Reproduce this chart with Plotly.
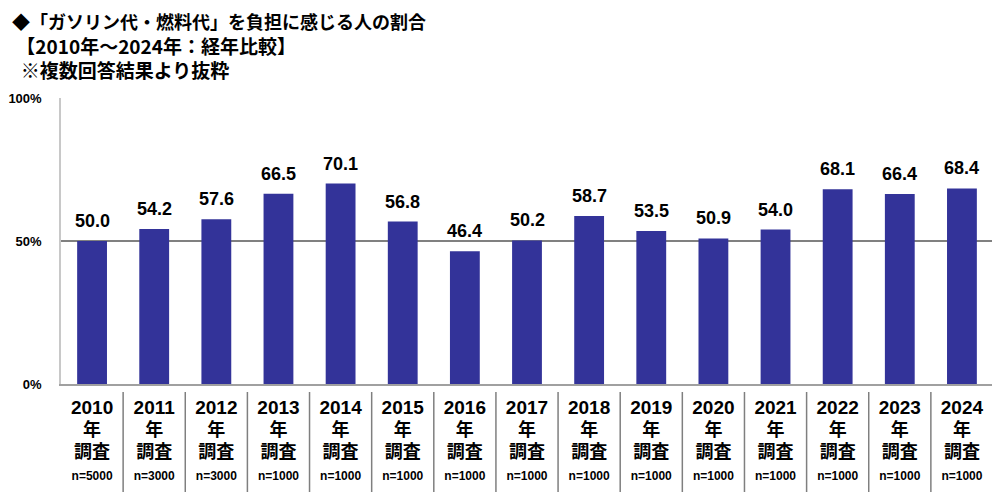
import plotly.graph_objects as go

years = ["2010", "2011", "2012", "2013", "2014", "2015", "2016", "2017",
         "2018", "2019", "2020", "2021", "2022", "2023", "2024"]
samples = ["5000", "3000", "3000", "1000", "1000", "1000", "1000", "1000",
           "1000", "1000", "1000", "1000", "1000", "1000", "1000"]
values = [50.0, 54.2, 57.6, 66.5, 70.1, 56.8, 46.4, 50.2,
          58.7, 53.5, 50.9, 54.0, 68.1, 66.4, 68.4]
y_ticks = [0, 50, 100]
y_tick_labels = ["0%", "50%", "100%"]
title_lines = ["◆「ガソリン代・燃料代」を負担に感じる人の割合",
               "【2010年～2024年：経年比較】",
               "※複数回答結果より抜粋"]

FONT = "Liberation Sans, Arial, Noto Sans CJK JP, sans-serif"
JP = "Noto Sans CJK JP, sans-serif"
BAR = "#333399"

# page body has an 8px margin; figure is sized so the plot lands where the reference has it
OFF = 8
PL, PR, PT, PB = 61, 993, 98, 384  # plot area in window pixels
W, HT = 1000 - OFF, 492 - OFF
H = float(PB - PT)

cat_labels = [f"<b><span style='font-size:19px'>{y}</span><br>"
              f"<span style='font-size:18px'>年</span><br>"
              f"<span style='font-size:18px'>調査</span></b><br>"
              f"<span style='font-size:12px'><b>n={n}</b></span>"
              for y, n in zip(years, samples)]

fig = go.Figure()
fig.add_trace(go.Bar(x=list(range(len(years))), y=values,
                     marker=dict(color=BAR, line=dict(width=0)), hoverinfo="skip"))

annotations = []
for i, v in enumerate(values):
    annotations.append(dict(x=i, y=v, xref="x", yref="y", text=f"<b>{v:.1f}</b>",
                            showarrow=False, yanchor="bottom", yshift=8,
                            font=dict(size=18, color="black", family=FONT)))

title_text = (f"<b><span style='font-size:18px'>{title_lines[0]}</span><br>"
              f"&nbsp;{title_lines[1]}<br>"
              f"&nbsp;&nbsp;{title_lines[2]}</b>")
annotations.append(dict(x=0, y=1 + (PT - 46) / H, xref="paper", yref="paper",
                        xanchor="left", yanchor="middle", align="left", xshift=10 - PL,
                        text=title_text, showarrow=False,
                        font=dict(size=19, color="black", family=JP)))

shapes = []
for i in range(len(years) - 1):
    shapes.append(dict(type="line", xref="x", yref="paper", x0=i + 0.5, x1=i + 0.5,
                       y0=-(392 - PB) / H, y1=-(492 - PB) / H,
                       line=dict(color="#7f7f7f", width=1.5)))
shapes.append(dict(type="line", xref="paper", yref="paper", x0=1, x1=1, y0=0, y1=1,
                   line=dict(color="#d0d0d0", width=1.5)))

fig.update_layout(
    width=W, height=HT,
    margin=dict(l=PL - OFF, r=(W + OFF) - PR, t=PT - OFF, b=(HT + OFF) - PB),
    paper_bgcolor="white", plot_bgcolor="white",
    bargap=0.52, showlegend=False,
    annotations=annotations, shapes=shapes,
    font=dict(family=FONT, color="black"),
    xaxis=dict(tickmode="array", tickvals=list(range(len(years))), ticktext=cat_labels,
               range=[-0.5, len(years) - 0.5], showgrid=False, zeroline=False,
               showline=True, linecolor="#a0a0a0", linewidth=1.5, ticks="",
               tickfont=dict(size=17, family=FONT, color="black"), ticklabelstandoff=8,
               automargin=False),
    yaxis=dict(range=[0, 100], tickvals=y_ticks, ticktext=[f"<b>{t}</b>" for t in y_tick_labels],
               showgrid=True, gridcolor="#808080", gridwidth=1.5, zeroline=False,
               showline=True, linecolor="#c8c8c8", linewidth=1.5, ticks="",
               tickfont=dict(size=13, family=FONT, color="black"), ticklabelstandoff=15,
               automargin=False),
)

fig.write_html("out.html")
